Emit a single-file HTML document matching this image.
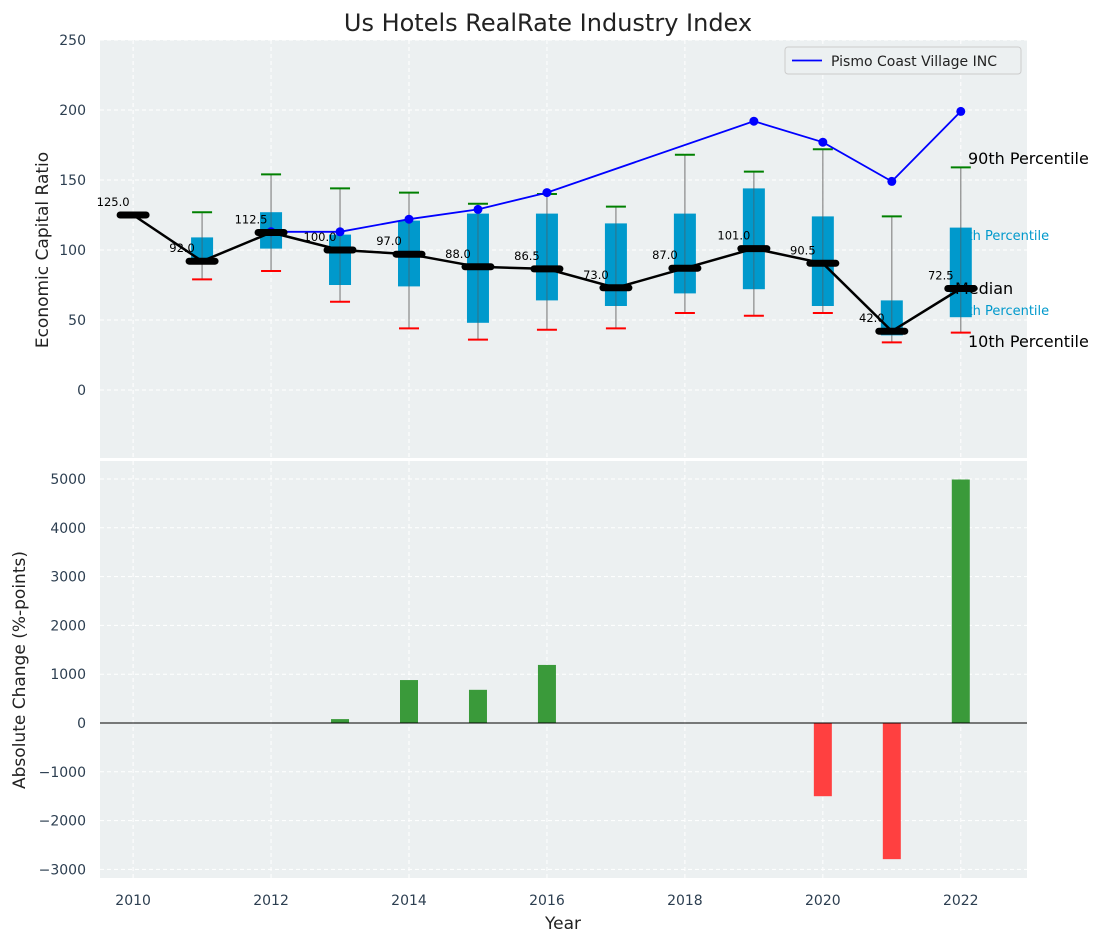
<!DOCTYPE html>
<html><head><meta charset="utf-8"><style>
body{margin:0;background:#fff;font-family:"Liberation Sans","DejaVu Sans",sans-serif;}
svg text{font-family:"DejaVu Sans","Liberation Sans",sans-serif;}
</style></head><body>
<svg id="c" width="1103" height="942" xmlns="http://www.w3.org/2000/svg"></svg>
<script>
const years=[2010,2011,2012,2013,2014,2015,2016,2017,2018,2019,2020,2021,2022];
const medians=[125,92,112.5,100,97,88,86.5,73,87,101,90.5,42,72.5];
const q1=[null,90,101,75,74,48,64,60,69,72,60,39,52];
const q3=[null,109,127,111,121,126,126,119,126,144,124,64,116];
const p10=[null,79,85,63,44,36,43,44,55,53,55,34,41];
const p90=[null,127,154,144,141,133,140,131,168,156,172,124,159];
const pismo=[null,null,113,113,122,129,141,null,null,192,177,149,199];
const changes=[0,0,0,80,880,680,1190,0,0,0,-1500,-2790,4990];
const topTicks=[0,50,100,150,200,250];
const botTicks=[-3000,-2000,-1000,0,1000,2000,3000,4000,5000];
const xTicks=[2010,2012,2014,2016,2018,2020,2022];

const NS="http://www.w3.org/2000/svg";
const svg=document.getElementById('c');
function el(t,a,p){const e=document.createElementNS(NS,t);for(const k in a)e.setAttribute(k,a[k]);(p||svg).appendChild(e);return e;}
const X0=100,X1=1027;
const x=v=>X0+(v-2009.52)/(2022.96-2009.52)*(X1-X0);
const yT=v=>390-v*1.4;
const yB=v=>723-v*0.0488;

let pt=el('rect',{x:X0,y:40,width:X1-X0,height:418,fill:'#ecf0f1'});

let pb=el('rect',{x:X0,y:461,width:X1-X0,height:417,fill:'#ecf0f1'});


xTicks.forEach(t=>{
 el('line',{x1:x(t),x2:x(t),y1:40,y2:458,stroke:'#fff','stroke-dasharray':'4,3'});
 el('line',{x1:x(t),x2:x(t),y1:461,y2:878,stroke:'#fff','stroke-dasharray':'4,3'});
 let tx=el('text',{x:x(t),y:905,'font-size':14,fill:'#2c3e50','text-anchor':'middle'});tx.textContent=t;
 
});
topTicks.forEach(t=>{
 el('line',{x1:X0,x2:X1,y1:yT(t),y2:yT(t),stroke:'#fff','stroke-dasharray':'4,3'});
 let tx=el('text',{x:86,y:yT(t)+5,'font-size':14,fill:'#2c3e50','text-anchor':'end'});tx.textContent=t;
 
});
botTicks.forEach(t=>{
 el('line',{x1:X0,x2:X1,y1:yB(t),y2:yB(t),stroke:'#fff','stroke-dasharray':'4,3'});
 let tx=el('text',{x:86,y:yB(t)+5,'font-size':14,fill:'#2c3e50','text-anchor':'end'});tx.textContent=(t<0?'\u2212'+(-t):t);
 
});

function txt(s,xx,yy,sz,col,name,anchor){let t=el('text',{x:xx,y:yy,'font-size':sz,fill:col,'text-anchor':anchor||'start'});t.textContent=s;return t;}
txt('75th Percentile',951,240,13,'#0099cc','q3-annotation');
txt('25th Percentile',951,315,13,'#0099cc','q1-annotation');

years.forEach((yr,i)=>{
 if(q1[i]==null)return;
 const cx=x(yr);
 let w=el('line',{x1:cx,x2:cx,y1:yT(p90[i]),y2:yT(p10[i]),stroke:'#888','stroke-width':1.2});
 
 let b=el('rect',{x:cx-11,y:yT(q3[i]),width:22,height:yT(q1[i])-yT(q3[i]),fill:'#0099cc'});
 
 el('line',{x1:cx,x2:cx,y1:yT(q3[i]),y2:yT(q1[i]),stroke:'#555','stroke-width':1,opacity:0.6});
 let g=el('line',{x1:cx-10,x2:cx+10,y1:yT(p90[i]),y2:yT(p90[i]),stroke:'green','stroke-width':2});
 
 let r=el('line',{x1:cx-10,x2:cx+10,y1:yT(p10[i]),y2:yT(p10[i]),stroke:'red','stroke-width':2});
 
});

let pp=[];years.forEach((yr,i)=>{if(pismo[i]!=null)pp.push(x(yr)+','+yT(pismo[i]));});
let pl=el('polyline',{points:pp.join(' '),fill:'none',stroke:'blue','stroke-width':1.8});

years.forEach((yr,i)=>{if(pismo[i]==null)return;let c=el('circle',{cx:x(yr),cy:yT(pismo[i]),r:4.5,fill:'blue'});
 });

let ml=el('polyline',{points:years.map((yr,i)=>x(yr)+','+yT(medians[i])).join(' '),fill:'none',stroke:'#000','stroke-width':2.5});

years.forEach((yr,i)=>{
 let m=el('line',{x1:x(yr)-13,x2:x(yr)+13,y1:yT(medians[i]),y2:yT(medians[i]),stroke:'#000','stroke-width':7,'stroke-linecap':'round'});
 
 txt(medians[i].toFixed(1),x(yr)-20,yT(medians[i])-9,11.5,'#000','median-value-label','middle');
});

txt('90th Percentile',968,164,16,'#000','p90-annotation');
txt('Median',955,294,16,'#000','median-annotation');
txt('10th Percentile',968,347,16,'#000','p10-annotation');

let lg=el('g',{});
el('rect',{x:785,y:47,width:236,height:27,fill:'#ecf0f1',stroke:'#ccc',rx:3},lg);
el('line',{x1:792,x2:822,y1:60.5,y2:60.5,stroke:'blue','stroke-width':1.8},lg);
let lt=el('text',{x:831,y:66,'font-size':14,fill:'#222'},lg);lt.textContent='Pismo Coast Village INC';

years.forEach((yr,i)=>{
 const v=changes[i];if(v===0)return;
 let b=el('rect',{x:x(yr)-9,y:Math.min(yB(v),yB(0)),width:18,height:Math.abs(yB(v)-yB(0)),fill:v>0?'#3a9a3a':'#ff4040'});
 
});
let zl=el('line',{x1:X0,x2:X1,y1:yB(0),y2:yB(0),stroke:'#000','stroke-width':1});


txt('Us Hotels RealRate Industry Index',548,31,24,'#222','chart-title','middle');
txt('Year',563,929,17,'#222','x-axis-title','middle');
let ya=txt('Economic Capital Ratio',0,0,17,'#222','top-y-axis-title','middle');ya.setAttribute('transform','translate(48,250) rotate(-90)');
let yb=txt('Absolute Change (%-points)',0,0,17,'#222','bottom-y-axis-title','middle');yb.setAttribute('transform','translate(25,670) rotate(-90)');
</script>
</body></html>
